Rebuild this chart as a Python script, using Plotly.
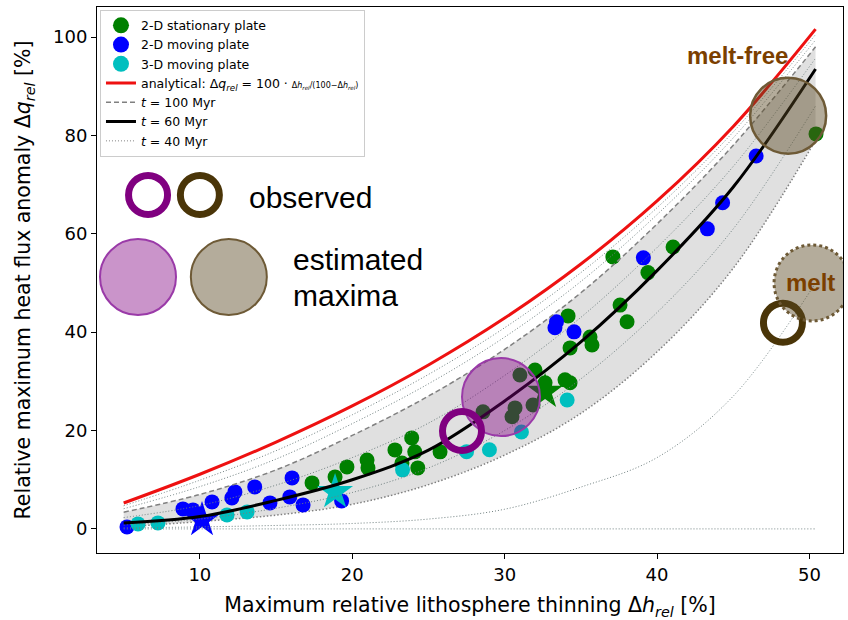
import plotly.graph_objects as go

# ---------------- data ----------------
# 2-D stationary plate (green)
stat_x = [17.36, 18.87, 19.65, 20.97, 21.03, 22.8, 23.9, 24.1, 23.26, 24.3, 25.76,
          28.58, 30.68, 30.48, 31.0, 31.86, 31.99, 32.65, 33.96, 34.29, 34.16, 35.6,
          35.73, 34.29, 37.57, 38.03, 37.1, 39.4, 41.05, 50.43]
stat_y = [9.35, 10.57, 12.6, 14.0, 12.4, 16.06, 18.5, 15.66, 13.4, 12.4, 15.66,
          23.8, 24.6, 22.8, 31.3, 25.2, 32.3, 29.7, 30.3, 29.7, 43.3, 39.0,
          37.4, 36.8, 45.5, 42.1, 55.3, 52.1, 57.3, 80.3]
# 2-D moving plate (blue)
mov2_x = [5.22, 8.89, 9.55, 10.8, 12.1, 12.3, 13.6, 14.6, 16.05, 15.9, 16.77, 19.3,
          33.4, 33.3, 34.55, 39.1, 43.3, 44.3, 46.5]
mov2_y = [0.41, 4.07, 3.86, 5.49, 6.3, 7.52, 8.54, 5.29, 10.37, 6.51, 4.88, 5.69,
          42.1, 40.9, 40.06, 55.1, 61.0, 66.3, 75.8]
# 3-D moving plate (cyan)
mov3_x = [5.94, 7.25, 11.78, 13.1, 23.3, 27.5, 29.0, 31.1, 34.1]
mov3_y = [1.02, 1.22, 2.85, 3.46, 12.0, 15.7, 16.1, 19.7, 26.2]
# star markers
star_stat_x, star_stat_y = [32.65], [27.9]
star_mov2_x, star_mov2_y = [10.14], [1.83]
star_mov3_x, star_mov3_y = [18.87], [7.52]

# curves
curve_h = [5, 10, 15, 20, 25, 30, 35, 40, 45, 50.4]
analytical_q = [5.26, 11.11, 17.65, 25.0, 33.33, 42.86, 53.85, 66.67, 81.82, 101.6]
t100_q = [3.4, 7.0, 12.0, 19.0, 27.0, 36.5, 48.0, 62.0, 78.0, 98.0]
t60_q = [1.2, 2.5, 5.8, 10.0, 16.0, 26.0, 38.0, 52.5, 69.5, 93.5]
band_low_q = [0.4, 1.5, 2.8, 5.0, 9.0, 15.0, 23.5, 36.0, 53.0, 79.0]
thin1_q = [4.7, 9.9, 15.9, 23.2, 31.4, 40.9, 52.1, 65.3, 80.7, 100.5]
thin2_q = [4.1, 8.6, 14.2, 21.4, 29.5, 39.0, 50.3, 63.9, 79.5, 99.4]
thin3_q = [2.3, 4.75, 8.9, 14.5, 21.5, 31.2, 43.0, 57.2, 73.7, 95.7]
thin4_q = [0.8, 2.0, 4.2, 7.4, 12.4, 20.0, 30.5, 44.0, 61.0, 86.0]
melt_q = [0.2, 0.4, 0.7, 1.1, 2.0, 4.0, 8.5, 14.5, 27.0, 50.0]
zero_q = [0, 0, 0, 0, 0, 0, 0, 0, 0, 0]

# observed / estimated values
obs_purple = (27.2, 19.9)
est_purple = (29.76, 26.8)
est_meltfree = (48.6, 84.0)
est_melt = (50.17, 50.0)
obs_brown = (48.26, 41.9)

# key glyph positions (annotation key inside the axes)
key_obs_x, key_obs_y = [6.6, 10.0], [67.9, 67.9]
key_est_x, key_est_y = [5.94, 11.9], [51.2, 51.2]

GREEN = "#008000"
BLUE = "#0000ff"
CYAN = "#00bfbf"
PURPLE = "#800080"
BROWN_RING = "#4a3508"
TAN_FILL = "rgba(88,70,33,0.45)"
TAN_EDGE = "#6e5a36"
PURP_FILL = "rgba(128,0,128,0.42)"
PURP_EDGE = "#9a3aa8"

fig = go.Figure()

# grey band
fig.add_trace(go.Scatter(x=curve_h, y=band_low_q, mode="lines", line=dict(color="gray", width=1.5, dash="1.5px,2px", shape="spline"),
                         showlegend=False, hoverinfo="skip"))
fig.add_trace(go.Scatter(x=curve_h, y=t100_q, mode="lines", line=dict(width=0, shape="spline"), fill="tonexty",
                         fillcolor="rgba(0,0,0,0.12)", showlegend=False, hoverinfo="skip"))

# points
for xs, ys, c, nm, rk in [(stat_x, stat_y, GREEN, "2-D stationary plate", 1),
                          (mov2_x, mov2_y, BLUE, "2-D moving plate", 2),
                          (mov3_x, mov3_y, CYAN, "3-D moving plate", 3)]:
    fig.add_trace(go.Scatter(x=xs, y=ys, mode="markers", showlegend=False,
                             marker=dict(color=c, size=15, line=dict(width=0))))
    # legend entry (larger symbol, like the reference legend)
    fig.add_trace(go.Scatter(x=[None], y=[None], mode="markers", name=nm, legendrank=rk,
                             marker=dict(color=c, size=16, line=dict(width=0))))
for sx, sy, c in [(star_stat_x, star_stat_y, GREEN), (star_mov2_x, star_mov2_y, BLUE), (star_mov3_x, star_mov3_y, CYAN)]:
    fig.add_trace(go.Scatter(x=sx, y=sy, mode="markers", showlegend=False,
                             marker=dict(color=c, size=27, symbol="star", line=dict(width=0))))

# thin dotted curves
for q in [thin1_q, thin2_q, thin3_q, thin4_q, melt_q, zero_q]:
    fig.add_trace(go.Scatter(x=curve_h, y=q, mode="lines", showlegend=False, hoverinfo="skip",
                             line=dict(color="#708080", width=1, dash="1px,2px", shape="spline")))
# legend entry for t = 40 Myr
fig.add_trace(go.Scatter(x=[None], y=[None], mode="lines", name="<i>t</i> = 40 Myr", legendrank=7,
                         line=dict(color="gray", width=1, dash="1px,2px")))

fig.add_trace(go.Scatter(x=curve_h, y=t100_q, mode="lines", name="<i>t</i> = 100 Myr", legendrank=5,
                         line=dict(color="gray", width=1.5, dash="5px,3px", shape="spline")))
analytical_name = ("analytical: Δ<i>q</i><sub><i>rel</i></sub> = 100 · "
                   "<span style='font-size:8px'>Δ<i>h</i><sub><i>rel</i></sub>/(100−Δ<i>h</i><sub><i>rel</i></sub>)</span>")
fig.add_trace(go.Scatter(x=curve_h, y=analytical_q, mode="lines", legendrank=4, name=analytical_name,
                         line=dict(color="#ee1111", width=3, shape="spline")))
fig.add_trace(go.Scatter(x=curve_h, y=t60_q, mode="lines", name="<i>t</i> = 60 Myr", legendrank=6,
                         line=dict(color="black", width=3, shape="spline")))

# estimated maxima circles
fig.add_trace(go.Scatter(x=[est_purple[0]], y=[est_purple[1]], mode="markers", showlegend=False,
                         marker=dict(color=PURP_FILL, size=78, line=dict(color=PURP_EDGE, width=2))))
fig.add_trace(go.Scatter(x=[est_meltfree[0]], y=[est_meltfree[1]], mode="markers", showlegend=False,
                         marker=dict(color=TAN_FILL, size=76, line=dict(color=TAN_EDGE, width=2.5))))
fig.add_trace(go.Scatter(x=key_est_x, y=key_est_y, mode="markers", showlegend=False,
                         marker=dict(color=[PURP_FILL, TAN_FILL], size=76, line=dict(color=[PURP_EDGE, TAN_EDGE], width=2))))
# melt circle (dotted edge)
fig.add_shape(type="circle", xref="x", yref="y", xsizemode="pixel", ysizemode="pixel",
              xanchor=est_melt[0], yanchor=est_melt[1], x0=-38, x1=38, y0=-38, y1=38,
              fillcolor=TAN_FILL, line=dict(color=TAN_EDGE, width=3, dash="dot"), layer="above")
# observed rings
fig.add_trace(go.Scatter(x=[obs_purple[0]], y=[obs_purple[1]], mode="markers", showlegend=False,
                         marker=dict(symbol="circle-open", size=39, color=PURPLE, line=dict(color=PURPLE, width=7))))
fig.add_trace(go.Scatter(x=[obs_brown[0]], y=[obs_brown[1]], mode="markers", showlegend=False,
                         marker=dict(symbol="circle-open", size=39, color=BROWN_RING, line=dict(color=BROWN_RING, width=7))))
fig.add_trace(go.Scatter(x=key_obs_x, y=key_obs_y, mode="markers", showlegend=False,
                         marker=dict(symbol="circle-open", size=39, color=[PURPLE, BROWN_RING],
                                     line=dict(color=[PURPLE, BROWN_RING], width=7))))

# text annotations
txt_font = dict(family="Liberation Sans, Arial", size=30, color="black")
fig.add_annotation(x=13.09, y=67.3, text="observed", showarrow=False, xanchor="left", yanchor="middle", font=txt_font)
fig.add_annotation(x=16.0, y=54.8, text="estimated", showarrow=False, xanchor="left", yanchor="middle", font=txt_font)
fig.add_annotation(x=16.0, y=47.4, text="maxima", showarrow=False, xanchor="left", yanchor="middle", font=txt_font)
lab_font = dict(family="Liberation Sans, Arial", size=24, color="#7b3f00")
fig.add_annotation(x=41.85, y=96.3, text="<b>melt-free</b>", showarrow=False, xanchor="left", yanchor="middle", font=lab_font)
fig.add_annotation(x=48.3, y=50.0, text="<b>melt</b>", showarrow=False, xanchor="left", yanchor="middle", font=lab_font)

axis_common = dict(showline=True, mirror=True, linecolor="black", linewidth=1, ticks="outside", ticklen=5,
                   tickwidth=1, tickcolor="black", showgrid=False, zeroline=False, automargin=False,
                   tickfont=dict(family="DejaVu Sans", size=18, color="black"))
fig.update_xaxes(range=[3.25, 52.2], tickvals=[10, 20, 30, 40, 50],
                 title=dict(text="Maximum relative lithosphere thinning Δ<i>h</i><sub><i>rel</i></sub> [%]",
                            font=dict(family="DejaVu Sans", size=20.5, color="black"), standoff=14),
                 **axis_common)
fig.update_yaxes(range=[-4.9, 106.1], tickvals=[0, 20, 40, 60, 80, 100],
                 title=dict(text="Relative maximum heat flux anomaly Δ<i>q</i><sub><i>rel</i></sub> [%]",
                            font=dict(family="DejaVu Sans", size=20.5, color="black"), standoff=16),
                 **axis_common)

fig.update_layout(width=848, height=620, margin=dict(l=97, r=5, t=7, b=67, autoexpand=False),
                  plot_bgcolor="white", paper_bgcolor="white",
                  legend=dict(x=0.004, y=0.995, xanchor="left", yanchor="top", bgcolor="rgba(255,255,255,0.85)",
                              bordercolor="#cccccc", borderwidth=1, traceorder="normal",
                              font=dict(family="DejaVu Sans", size=12.5, color="black"), itemwidth=30),
                  font=dict(family="DejaVu Sans"))

fig.write_html("out.html", config={"displayModeBar": False},
               post_script="document.body.style.margin='0px';")
